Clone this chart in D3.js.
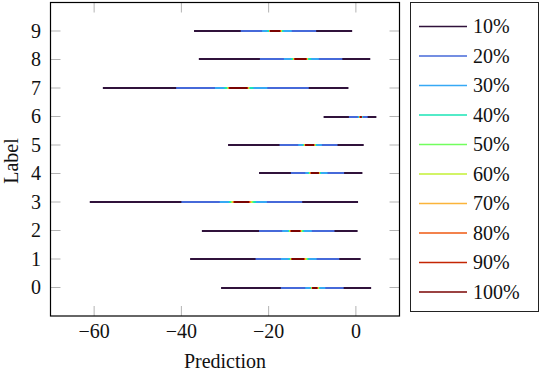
<!DOCTYPE html>
<html>
<head>
<meta charset="utf-8">
<script src="https://cdn.jsdelivr.net/npm/d3@7"></script>
<style>
  body { margin: 0; background: #fff; }
</style>
</head>
<body>
<script>
// labels 0..9 on the y axis
let labels = [0, 1, 2, 3, 4, 5, 6, 7, 8, 9];

// legend entries, one per interval level (widest first)
let levels = ["10%", "20%", "30%", "40%", "50%", "60%", "70%", "80%", "90%", "100%"];
let colors = ["#30123b", "#4669d9", "#36a9f5", "#1ae4b6", "#72fe5e",
              "#c3f134", "#fbb43a", "#ef5911", "#c42503", "#7a0403"];

// lower / upper ends, one row per level, one value per label 0..9
let lower = [
  [-30.9, -38.0, -35.3, -61.0, -22.2, -29.3, -7.4, -58.0, -36.0, -37.1],
  [-17.2, -23.0, -22.2, -40.0, -14.9, -17.5, -1.6, -41.2, -22.0, -26.4],
  [-11.6, -17.2, -16.9, -31.2, -11.6, -13.2, 0.45, -32.3, -16.5, -21.5],
  [-10.5, -15.4, -15.5, -29.1, -10.9, -12.2, 0.6, -30.2, -14.9, -20.3],
  [-10.3, -15.1, -15.3, -28.7, -10.7, -12.0, 0.7, -29.6, -14.5, -19.9],
  [-10.2, -15.0, -15.2, -28.5, -10.6, -11.9, 0.75, -29.4, -14.4, -19.85],
  [-10.15, -14.9, -15.1, -28.3, -10.5, -11.8, 0.8, -29.3, -14.3, -19.8],
  [-10.1, -14.8, -15.0, -28.1, -10.4, -11.7, 0.85, -29.2, -14.2, -19.75],
  [-10.05, -14.75, -14.95, -28.0, -10.35, -11.65, 0.9, -29.1, -14.1, -19.7],
  [-10.0, -14.7, -14.9, -27.9, -10.3, -11.6, 1.0, -29.0, -14.0, -19.7]
];
let upper = [
  [3.5, 1.1, 0.4, 0.5, 1.5, 1.8, 4.7, -1.7, 3.3, -0.85],
  [-2.8, -3.8, -4.9, -12.3, -2.7, -4.2, 2.7, -10.8, -3.1, -9.1],
  [-7.0, -9.0, -10.1, -20.4, -6.5, -7.8, 1.6, -20.3, -8.5, -14.7],
  [-8.2, -10.8, -11.9, -22.9, -8.0, -9.0, 1.5, -23.5, -10.3, -16.6],
  [-8.4, -11.1, -12.2, -23.5, -8.2, -9.2, 1.45, -24.3, -10.9, -16.9],
  [-8.5, -11.3, -12.4, -23.8, -8.3, -9.3, 1.4, -24.5, -11.0, -17.0],
  [-8.6, -11.5, -12.5, -24.0, -8.35, -9.4, 1.4, -24.6, -11.1, -17.1],
  [-8.7, -11.7, -12.6, -24.2, -8.4, -9.5, 1.35, -24.7, -11.2, -17.2],
  [-8.8, -11.8, -12.7, -24.4, -8.45, -9.55, 1.35, -24.8, -11.3, -17.3],
  [-8.9, -11.9, -12.8, -24.5, -8.5, -9.6, 1.3, -24.9, -11.4, -17.4]
];

let xTicks = [-60, -40, -20, 0];

let width = 540, height = 372;
let plot = {left: 50.5, right: 399.5, top: 2.5, bottom: 316};
let font = "'Liberation Serif', 'Times New Roman', 'DejaVu Serif', serif";
let fs = 20;

let svg = d3.select("body").append("svg")
    .attr("width", width)
    .attr("height", height)
    .attr("font-family", font);

let x = d3.scaleLinear().domain([-70, 10]).range([plot.left, plot.right]);
let y = d3.scaleLinear().domain([-1, 10]).range([plot.bottom, plot.top]);

// inner gray ticks on all four sides
let ticks = svg.append("g").attr("stroke", "#b3b3b3").attr("stroke-width", 1);
for (let t of xTicks) {
  ticks.append("line").attr("x1", x(t)).attr("x2", x(t))
    .attr("y1", plot.bottom).attr("y2", plot.bottom - 10);
  ticks.append("line").attr("x1", x(t)).attr("x2", x(t))
    .attr("y1", plot.top).attr("y2", plot.top + 10);
}
for (let l of labels) {
  ticks.append("line").attr("y1", y(l)).attr("y2", y(l))
    .attr("x1", plot.left).attr("x2", plot.left + 10);
  ticks.append("line").attr("y1", y(l)).attr("y2", y(l))
    .attr("x1", plot.right).attr("x2", plot.right - 10);
}

// intervals, widest first so narrower ones sit on top
let rows = [];
levels.forEach(function(lev, i) {
  labels.forEach(function(l, j) {
    rows.push({level: i, label: l, lo: lower[i][j], hi: upper[i][j]});
  });
});

svg.append("g")
  .selectAll("line")
  .data(rows)
  .enter().append("line")
    .attr("x1", d => x(d.lo))
    .attr("x2", d => x(d.hi))
    .attr("y1", d => Math.round(y(d.label)))
    .attr("y2", d => Math.round(y(d.label)))
    .attr("stroke", d => colors[d.level])
    .attr("stroke-width", 2);

// frame
svg.append("rect")
  .attr("x", plot.left).attr("y", plot.top)
  .attr("width", plot.right - plot.left)
  .attr("height", plot.bottom - plot.top)
  .attr("fill", "none")
  .attr("stroke", "#000")
  .attr("stroke-width", 1.2);

// tick labels
svg.append("g")
  .selectAll("text")
  .data(xTicks)
  .enter().append("text")
    .attr("x", d => x(d))
    .attr("y", 338)
    .attr("text-anchor", "middle")
    .attr("font-size", fs)
    .attr("fill", "#111")
    .text(d => d < 0 ? "\u2212" + Math.abs(d) : d);

svg.append("g")
  .selectAll("text")
  .data(labels)
  .enter().append("text")
    .attr("x", 41)
    .attr("y", d => y(d))
    .attr("dy", "0.34em")
    .attr("text-anchor", "end")
    .attr("font-size", fs)
    .attr("fill", "#111")
    .text(d => d);

svg.append("text")
  .attr("x", (plot.left + plot.right) / 2)
  .attr("y", 368)
  .attr("text-anchor", "middle")
  .attr("font-size", fs)
  .attr("fill", "#111")
  .text("Prediction");

svg.append("text")
  .attr("transform", "translate(18," + 161 + ") rotate(-90)")
  .attr("text-anchor", "middle")
  .attr("font-size", fs)
  .attr("fill", "#111")
  .text("Label");

// legend
let legend = svg.append("g");
legend.append("rect")
  .attr("x", 410.5).attr("y", 2.5)
  .attr("width", 128).attr("height", 309)
  .attr("fill", "#fff")
  .attr("stroke", "#222")
  .attr("stroke-width", 1);

let entry = legend.selectAll("g.entry")
  .data(levels)
  .enter().append("g")
    .attr("class", "entry")
    .attr("transform", (d, i) => "translate(0," + (26.5 + i * 29.5) + ")");

entry.append("line")
  .attr("x1", 419).attr("x2", 467)
  .attr("stroke", (d, i) => colors[i])
  .attr("stroke-width", 1.5);

entry.append("text")
  .attr("x", 473)
  .attr("dy", "0.34em")
  .attr("font-size", fs)
  .attr("fill", "#111")
  .text(d => d);
</script>
</body>
</html>
